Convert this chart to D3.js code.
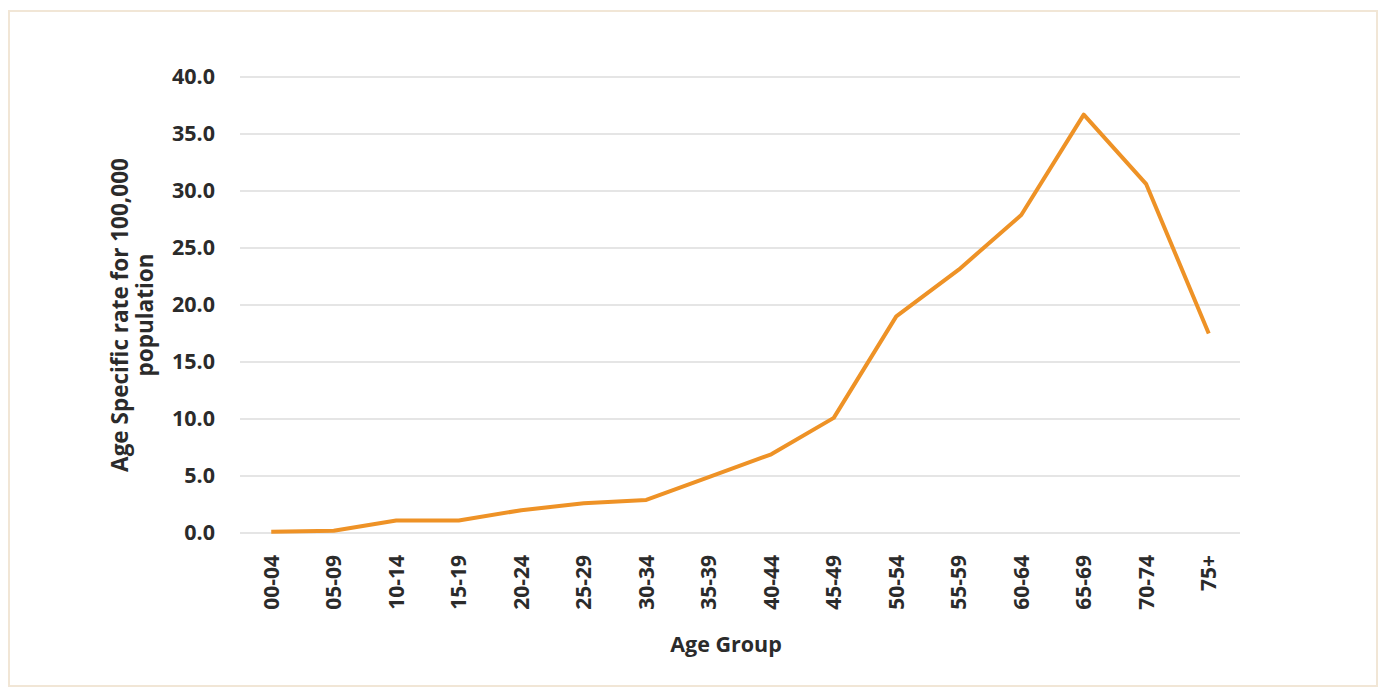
<!DOCTYPE html>
<html><head><meta charset="utf-8">
<script src="https://cdn.jsdelivr.net/npm/d3@7/dist/d3.min.js"></script>
<style>body{margin:0;background:#fff}svg{display:block}</style>
</head><body>
<script>
const categories = ["00-04","05-09","10-14","15-19","20-24","25-29","30-34","35-39","40-44","45-49","50-54","55-59","60-64","65-69","70-74","75+"];
const rates = [0.1,0.2,1.1,1.1,2.0,2.6,2.9,4.9,6.9,10.1,19.0,23.1,27.9,36.7,30.6,17.5];
const yTicks = [0,5,10,15,20,25,30,35,40];
const yTitleLines = ["Age Specific rate for 100,000","population"];
const xTitle = "Age Group";

(function(){
const W=1380,H=689;
const svg=d3.select("body").append("svg").attr("width",W).attr("height",H);
svg.append("rect").attr("x",9).attr("y",11).attr("width",1368).attr("height",675)
  .attr("fill","#fff").attr("stroke","#f1e6d6").attr("stroke-width",2);

const pLeft=240,pRight=1240,pTop=77,pBottom=533;
const x=d3.scaleBand().domain(categories).range([pLeft,pRight]);
const y=d3.scaleLinear().domain([0,40]).range([pBottom,pTop]);
const font="'Open Sans', 'Noto Sans', sans-serif";

const grid=svg.append("g");
grid.selectAll("line").data(yTicks).join("line")
  .attr("x1",pLeft).attr("x2",pRight).attr("y1",d=>y(d)).attr("y2",d=>y(d))
  .attr("stroke","#dcdcdc").attr("stroke-width",1.5);

const yAxis=svg.append("g").attr("transform",`translate(${pLeft},0)`)
  .call(d3.axisLeft(y).tickValues(yTicks).tickFormat(d3.format(".1f")).tickSize(0).tickPadding(25));
yAxis.select(".domain").remove();
yAxis.selectAll("text").attr("font-family",font).attr("font-weight","bold").attr("font-size",21.5).attr("fill","#2b2b2b");

const xAxis=svg.append("g").attr("transform",`translate(0,${pBottom})`)
  .call(d3.axisBottom(x).tickSize(0).tickPadding(0));
xAxis.select(".domain").remove();
xAxis.selectAll("text").attr("font-family",font).attr("font-weight","bold").attr("font-size",21).attr("fill","#2b2b2b")
  .attr("transform","rotate(-90)").attr("text-anchor","end").attr("dy","0.35em").attr("x",-22).attr("y",0);

const line=d3.line().x((d,i)=>x(categories[i])+x.bandwidth()/2).y(d=>y(d));
svg.append("path").datum(rates).attr("d",line).attr("fill","none")
  .attr("stroke","#EE9226").attr("stroke-width",4).attr("stroke-linejoin","round");

const yt=svg.append("text").attr("transform","translate(128,315) rotate(-90)")
  .attr("text-anchor","middle").attr("font-family",font).attr("font-weight","bold").attr("font-size",22.5).attr("fill","#2b2b2b");
yTitleLines.forEach((t,i)=>yt.append("tspan").attr("x",0).attr("dy",i===0?0:25).text(t));

svg.append("text").attr("x",726).attr("y",652).attr("text-anchor","middle")
  .attr("font-family",font).attr("font-weight","bold").attr("font-size",21.5).attr("fill","#2b2b2b").text(xTitle);
})();
</script>
</body></html>
